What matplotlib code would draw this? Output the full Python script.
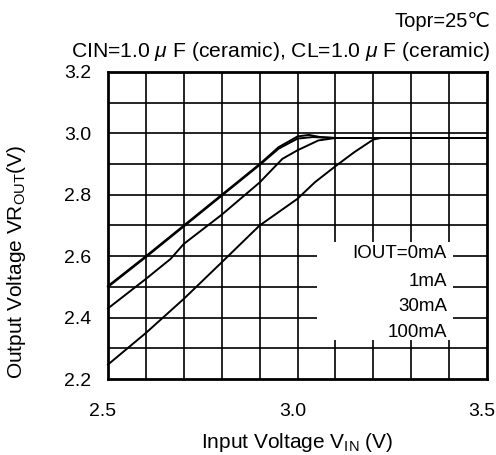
import matplotlib
matplotlib.use("Agg")
import matplotlib.pyplot as plt
import matplotlib.patches as patches
import matplotlib.transforms as mtransforms
import numpy as np

plt.rcParams['font.family'] = ['Liberation Sans', 'DejaVu Sans']
plt.rcParams['mathtext.fontset'] = 'custom'
plt.rcParams['mathtext.rm'] = 'Liberation Sans'
plt.rcParams['mathtext.it'] = 'Liberation Sans:italic'

# curves (input voltage V, output voltage V)
vin_0 = [2.5, 2.6, 2.7, 2.8, 2.9, 2.95, 3.0, 3.03, 3.06, 3.1, 3.5]
vout_0 = [2.503, 2.6, 2.7, 2.8, 2.9, 2.955, 2.99, 2.995, 2.988, 2.985, 2.985]

vin_1 = [2.5, 2.6, 2.7, 2.8, 2.9, 2.95, 3.0, 3.04, 3.08, 3.1, 3.5]
vout_1 = [2.5, 2.597, 2.697, 2.797, 2.897, 2.95, 2.983, 2.988, 2.986, 2.985, 2.985]

vin_30 = [2.5, 2.6, 2.665, 2.7, 2.8, 2.9, 2.96, 3.0, 3.055, 3.1, 3.5]
vout_30 = [2.43, 2.526, 2.591, 2.64, 2.735, 2.84, 2.917, 2.945, 2.977, 2.985, 2.985]

vin_100 = [2.5, 2.6, 2.7, 2.8, 2.9, 3.0, 3.046, 3.1, 3.15, 3.2, 3.22, 3.5]
vout_100 = [2.247, 2.35, 2.461, 2.58, 2.7, 2.787, 2.841, 2.893, 2.939, 2.98, 2.985, 2.985]

legend_labels = ["IOUT=0mA", "1mA", "30mA", "100mA"]
legend_y = [2.61, 2.516, 2.435, 2.353]

xticks = [2.5, 3.0, 3.5]
yticks = [2.2, 2.4, 2.6, 2.8, 3.0, 3.2]

fig = plt.figure(figsize=(4.96, 4.55), dpi=100)
ax = fig.add_axes([0.2177, 0.167, 0.9819 - 0.2177, 0.8418 - 0.167])
ax.set_xlim(2.5, 3.5)
ax.set_ylim(2.2, 3.2)

# grid drawn by hand so the legend box can cover it
for gx in np.arange(2.6, 3.45, 0.1):
    ax.axvline(gx, color='black', lw=1.2, zorder=1)
for gy in np.arange(2.3, 3.15, 0.1):
    ax.axhline(gy, color='black', lw=1.2, zorder=1)

ax.add_patch(patches.Rectangle((3.051, 2.327), 3.41 - 3.051, 2.647 - 2.327,
                               facecolor='white', edgecolor='none', zorder=2))

for xs, ys in [(vin_0, vout_0), (vin_1, vout_1), (vin_30, vout_30), (vin_100, vout_100)]:
    ax.plot(xs, ys, color='black', lw=1.4, zorder=3, clip_on=False)

for lab, ly in zip(legend_labels, legend_y):
    ax.text(3.394, ly, lab, ha='right', va='center', fontsize=13.5, zorder=4)

for s in ax.spines.values():
    s.set_linewidth(2)
ax.set_xticks(xticks)
ax.set_yticks(yticks)
ax.set_xticklabels([f"{v:.1f}" for v in xticks], fontsize=14)
ax.set_yticklabels([f"{v:.1f}" for v in yticks], fontsize=14)
ax.tick_params(axis='x', length=0, pad=17)
ax.tick_params(axis='y', length=0, pad=12)
shift = mtransforms.ScaledTranslation(-5 / 100, 0, fig.dpi_scale_trans)
for t in ax.get_xticklabels():
    t.set_transform(t.get_transform() + shift)

ax.set_xlabel(r"Input Voltage V$_{\mathregular{IN}}$ (V)", fontsize=15, labelpad=8)
ax.set_ylabel(r"Output Voltage VR$_{\mathregular{OUT}}$(V)", fontsize=15)
ax.yaxis.set_label_coords(-0.211, 0.381)

fig.text(0.988, 0.9407, "Topr=25℃", ha='right', va='baseline', fontsize=14.5)
fig.text(0.988, 0.8747, r"CIN=1.0 $\mu$ F (ceramic), CL=1.0 $\mu$ F (ceramic)",
         ha='right', va='baseline', fontsize=15.2)

fig.savefig("out.png", dpi=100)
